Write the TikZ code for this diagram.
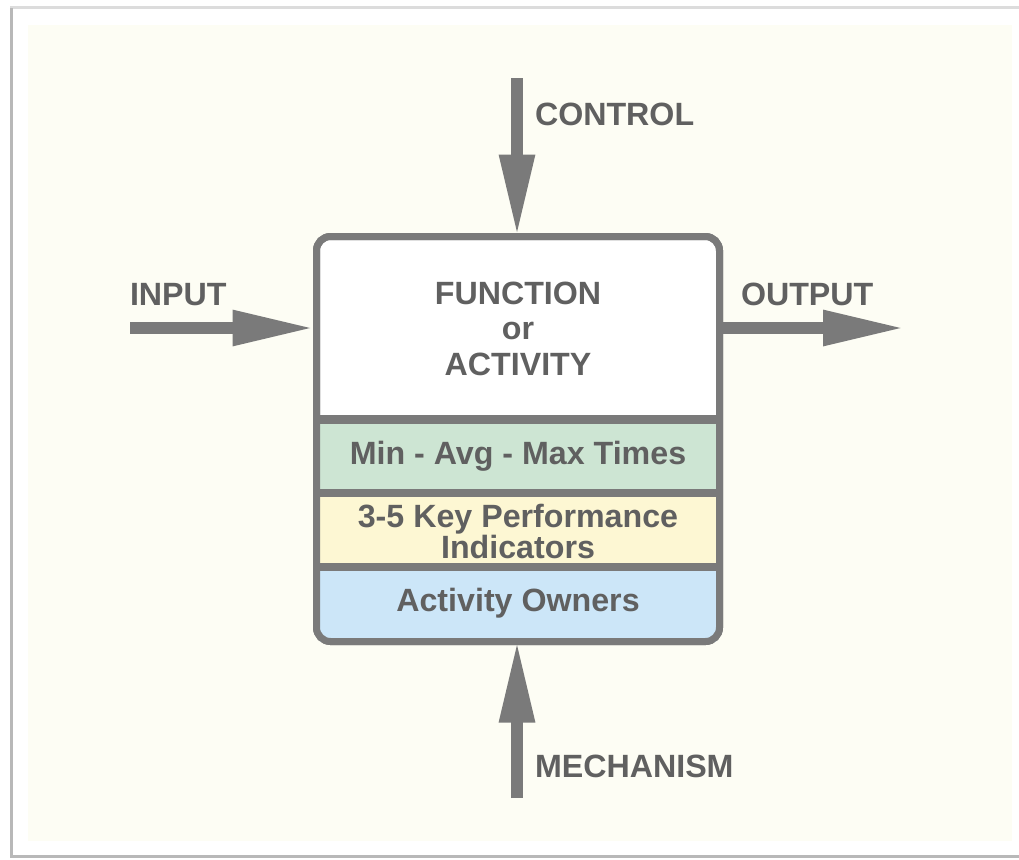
\documentclass[tikz,border=0pt]{standalone}
\usepackage{fontspec}
\setmainfont{Liberation Sans}
\usetikzlibrary{arrows.meta}
\definecolor{cream}{HTML}{FDFDF4}
\definecolor{frameg}{HTML}{B8B8B8}
\definecolor{lineg}{HTML}{7A7A7A}
\definecolor{txtg}{HTML}{606060}
\definecolor{bgreen}{HTML}{CDE5D3}
\definecolor{byellow}{HTML}{FDF7D3}
\definecolor{bblue}{HTML}{CCE6F8}
\tikzset{
  lbl/.style={font=\fontsize{32.2}{36}\selectfont\bfseries, text=txtg, inner sep=0pt, outer sep=0pt},
  flow/.style={draw=lineg, line width=12pt, -{Triangle[length=82pt, width=33pt]}},
  band/.style={inner sep=0pt, outer sep=0pt, minimum width=396pt},
}
\begin{document}
\begin{tikzpicture}[x=1pt,y=-1pt]
\useasboundingbox (0,0) rectangle (1019,859);
% frame
\fill[white] (0,0) rectangle (1019,859);
\fill[frameg!50] (10,6) rectangle (1019,9);
\fill[white] (12,9) rectangle (1019,855);
\fill[frameg] (10,8) rectangle (13,858);
\fill[frameg] (10,855) rectangle (1019,858);
\fill[cream] (28,25) rectangle (1012,841);
% main box
\node[draw=lineg, line width=7pt, fill=white, rounded corners=14pt, minimum width=403pt, minimum height=405pt, inner sep=0pt, outer sep=0pt] (box) at (518,439) {};
% bands
\node[band, fill=bgreen, minimum height=73.5pt] (b1) at (518,456.25) {};
\node[band, fill=byellow, minimum height=74pt] (b2) at (518,530) {};
\node[band, fill=bblue, minimum height=74.5pt] (b3) at (518,604.25) {};
\draw[draw=lineg, line width=7pt, rounded corners=14pt] (316.5,236.5) rectangle (719.5,641.5);
\draw[lineg, line width=9pt] (b1.north west) -- (b1.north east);
\draw[lineg, line width=8pt] (b2.north west) -- (b2.north east);
\draw[lineg, line width=8pt] (b3.north west) -- (b3.north east);
% texts
\node[lbl, align=center] (fn) at (518,329) {FUNCTION\\[-0.5pt]or\\ACTIVITY};
\node[lbl] (t1) at (518,456) {Min - Avg - Max Times};
\node[lbl, align=center, font=\fontsize{32.2}{31}\selectfont\bfseries] (t2) at (518,531) {3-5 Key Performance\\Indicators};
\node[lbl] (t3) at (518,603) {Activity Owners};
% arrows
\coordinate (inS) at (130,328);
\coordinate (outE) at (900,328);
\coordinate (ctlS) at (517,78);
\coordinate (mechS) at (517,798);
\draw[flow, shorten >=2pt] (inS) -- (inS -| box.west);
\draw[flow, shorten >=-5pt] (outE -| box.east) -- (outE);
\draw[flow] (ctlS) -- (ctlS |- box.north);
\draw[flow, shorten >=-1pt] (mechS) -- (mechS |- box.south);
% labels
\node[lbl, anchor=base west] (lin) at (130,305) {INPUT};
\node[lbl, anchor=base west] (lout) at (741,305) {OUTPUT};
\node[lbl, anchor=base west] (lctl) at (535,125) {CONTROL};
\node[lbl, anchor=base west] (lmech) at (535,777) {MECHANISM};
\end{tikzpicture}
\end{document}
